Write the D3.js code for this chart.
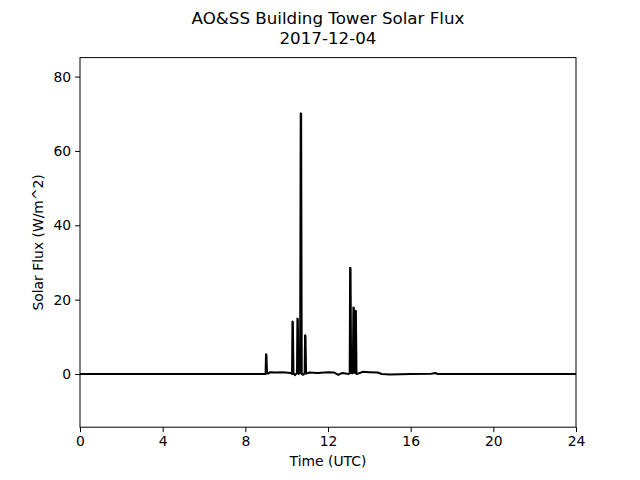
<!DOCTYPE html>
<html><head><meta charset="utf-8">
<script src="https://cdn.jsdelivr.net/npm/d3@7"></script>
<style>body{margin:0;background:#fff}text{font-family:"DejaVu Sans",sans-serif}</style>
</head><body><svg id="c" width="640" height="480"></svg>
<script>
const titleLines = ["AO&SS Building Tower Solar Flux", "2017-12-04"];
const xTicks = [0, 4, 8, 12, 16, 20, 24];
const yTicks = [0, 20, 40, 60, 80];
const hours = [0, 3, 6, 8.9, 8.98, 9.0, 9.02, 9.05, 9.1, 9.2, 9.5, 9.8, 10.2, 10.26, 10.28, 10.30, 10.33, 10.4, 10.5, 10.52, 10.54, 10.57, 10.65, 10.68, 10.70, 10.73, 10.8, 10.87, 10.89, 10.91, 10.94, 11.1, 11.5, 12.0, 12.3, 12.5, 12.7, 13.0, 13.05, 13.07, 13.09, 13.12, 13.2, 13.23, 13.25, 13.28, 13.31, 13.33, 13.35, 13.38, 13.5, 13.7, 14.0, 14.4, 14.6, 15.0, 16.0, 17.0, 17.2, 17.3, 18, 24];
const flux = [0, 0, 0, 0, 0, 5.3, 5.2, 0.2, 0.1, 0.5, 0.4, 0.5, 0.3, 0.0, 14.1, 14.0, 0.2, -0.3, 0.3, 14.9, 14.8, 0.0, 0.3, 70.1, 70.0, 0.0, -0.2, 0.2, 10.4, 10.3, 0.1, 0.4, 0.3, 0.5, 0.4, -0.2, 0.3, 0.0, 0.2, 28.6, 28.5, 0.3, 0.2, 17.9, 17.8, 0.4, 0.3, 17.0, 16.9, 0.0, 0.2, 0.6, 0.5, 0.4, 0.0, -0.1, 0.0, 0.1, 0.3, 0.0, 0, 0];

const svg = d3.select("#c");
const L = 80, R = 576, T = 57.6, B = 427.2;
const x = d3.scaleLinear().domain([0, 24]).range([L, R]);
const y = d3.scaleLinear().domain([-14.3, 85.1]).range([B, T]);

svg.append("g").selectAll("text").data(titleLines).join("text")
  .attr("x", (L + R) / 2).attr("y", (d, i) => 24 + i * 20)
  .attr("text-anchor", "middle").attr("font-size", 16.7).text(d => d);

const data = hours.map((h, i) => [h, flux[i]]);
svg.append("path").datum(data)
  .attr("fill", "none").attr("stroke", "#000").attr("stroke-width", 2)
  .attr("stroke-linejoin", "round")
  .attr("d", d3.line().x(d => x(d[0])).y(d => y(d[1])));

const xa = svg.append("g").attr("transform", `translate(0,${B})`)
  .call(d3.axisBottom(x).tickValues(xTicks).tickSize(4.9).tickPadding(4).tickFormat(d3.format("d")));
const ya = svg.append("g").attr("transform", `translate(${L},0)`)
  .call(d3.axisLeft(y).tickValues(yTicks).tickSize(4.9).tickPadding(4).tickFormat(d3.format("d")));
[xa, ya].forEach(a => {
  a.select(".domain").remove();
  a.selectAll("text").attr("font-size", 13.9).attr("fill", "#000").style("font-family", '"DejaVu Sans", sans-serif');
  a.selectAll("line").attr("stroke", "#000").attr("stroke-width", 1);
});
svg.append("rect").attr("x", L).attr("y", T).attr("width", R - L).attr("height", B - T)
  .attr("fill", "none").attr("stroke", "#000").attr("stroke-width", 1);

svg.append("text").attr("x", (L + R) / 2).attr("y", 466).attr("text-anchor", "middle")
  .attr("font-size", 13.9).text("Time (UTC)");
svg.append("text").attr("transform", `translate(43,${(T + B) / 2}) rotate(-90)`)
  .attr("text-anchor", "middle").attr("font-size", 13.9).text("Solar Flux (W/m^2)");
</script></body></html>
